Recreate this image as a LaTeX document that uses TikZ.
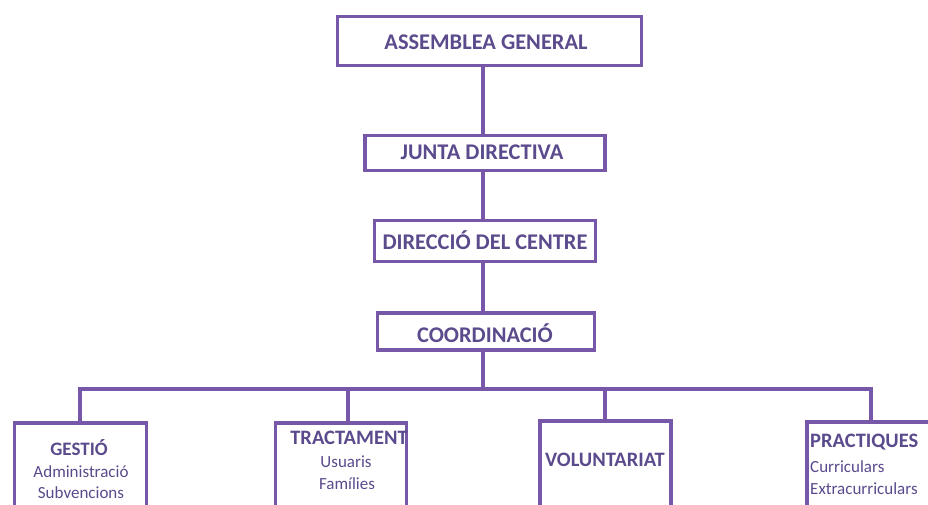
\documentclass[tikz,border=0pt]{standalone}
\usepackage{fontspec}
\setmainfont{Carlito}
\definecolor{lineP}{HTML}{7757A8}
\definecolor{textP}{HTML}{5B4A8C}
\begin{document}
\begin{tikzpicture}[x=1pt,y=-1pt,
  box/.style={draw=lineP,line width=3.6pt,rectangle,inner sep=0pt},
  conn/.style={draw=lineP,line width=3.4pt},
  head/.style={text=textP,font=\fontsize{22.4}{26}\selectfont\bfseries,inner sep=0pt,anchor=base},
  bhead/.style={text=textP,font=\fontsize{20.5}{24}\selectfont\bfseries,inner sep=0pt,anchor=base},
  sub/.style={text=textP,font=\fontsize{17}{20}\selectfont,inner sep=0pt,anchor=base}]
\useasboundingbox (0,0) rectangle (928,505);
\clip (0,0) rectangle (928,505);
% top boxes
\node[box,minimum width=304,minimum height=49] (ag) at (489.5,41) {};
\node[box,minimum width=240,minimum height=35] (jd) at (485,153) {};
\node[box,minimum width=221,minimum height=41] (dc) at (485,241) {};
\node[box,minimum width=217,minimum height=37] (co) at (486,331.5) {};
\node[head] (tag) at (486,50) {ASSEMBLEA GENERAL};
\node[head] (tjd) at (482,160) {JUNTA DIRECTIVA};
\node[head] (tdc) at (485,249) {DIRECCIÓ DEL CENTRE};
\node[head] (tco) at (485,342) {COORDINACIÓ};
% bottom boxes
\node[box,anchor=north,minimum width=132,minimum height=120] (ge) at (80.5,421) {};
\node[box,anchor=north,minimum width=131,minimum height=120] (tr) at (341,421) {};
\node[box,anchor=north,minimum width=131,minimum height=120] (vo) at (605.5,419) {};
\node[box,anchor=north,minimum width=132,minimum height=120] (pr) at (873,420) {};
\node[bhead,font=\fontsize{19}{22}\selectfont\bfseries] (tge) at (79,455) {GESTIÓ};
\node[sub] (sge1) at (81,477) {Administració};
\node[sub] (sge2) at (81,498) {Subvencions};
\node[bhead] (ttr) at (349,444) {TRACTAMENT};
\node[sub] (str1) at (346,467) {Usuaris};
\node[sub] (str2) at (347,489) {Famílies};
\node[bhead] (tvo) at (605,466) {VOLUNTARIAT};
\node[bhead,anchor=base west] (tpr) at (810,447) {PRACTIQUES};
\node[sub,anchor=base west] (spr1) at (810,472) {Curriculars};
\node[sub,anchor=base west] (spr2) at (810,494) {Extracurriculars};
% connectors
\coordinate (spine) at (483,0);
\coordinate (bus) at (483,389);
\coordinate (busL) at (80,389);
\coordinate (busT) at (348,389);
\coordinate (busV) at (605,389);
\coordinate (busR) at (871,389);
\draw[conn] (ag.south -| spine) -- (jd.north -| spine);
\draw[conn] (jd.south -| spine) -- (dc.north -| spine);
\draw[conn] (dc.south -| spine) -- (co.north -| spine);
\draw[conn] (co.south -| spine) -- (bus);
\draw[conn,line cap=rect] (busL) -- (busR);
\draw[conn] (busL) -- (busL |- ge.north);
\draw[conn] (busT) -- (busT |- tr.north);
\draw[conn] (busV) -- (busV |- vo.north);
\draw[conn] (busR) -- (busR |- pr.north);
\end{tikzpicture}
\end{document}
